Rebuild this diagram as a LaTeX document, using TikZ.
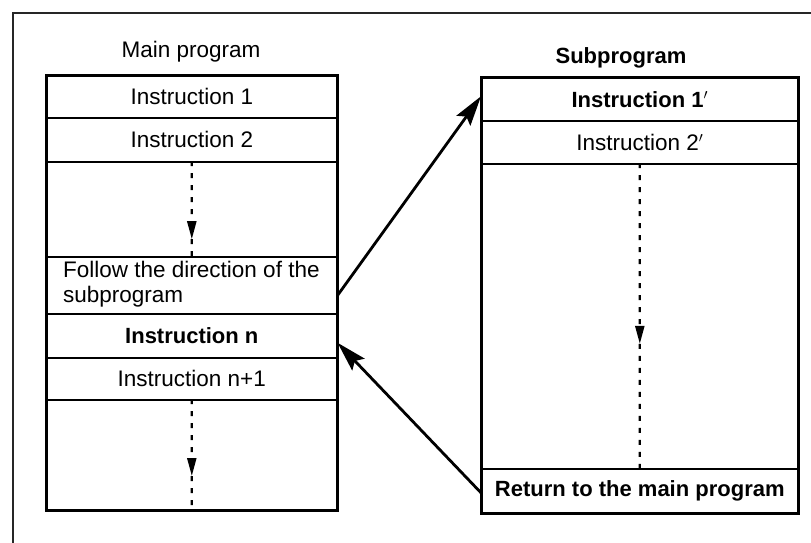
\documentclass[tikz,border=0pt]{standalone}
\usepackage{fontspec}
\setmainfont{Liberation Sans}
\usetikzlibrary{arrows.meta,calc}
\begin{document}
\begin{tikzpicture}[x=1pt,y=-1pt,
  txt/.style={font=\fontsize{22.5}{25}\selectfont},
  btxt/.style={font=\fontsize{22}{25}\selectfont\bfseries},
  cell/.style={draw,line width=1.6pt,rectangle,inner sep=0pt,anchor=north west,txt},
  mcell/.style={cell,minimum width=290pt},
  scell/.style={cell,minimum width=316pt},
  flow/.style={line width=2.8pt,-{Stealth[length=30pt,width=17pt,inset=5pt]}},
  seq/.style={line width=2.2pt,dash pattern=on 5pt off 7pt},
  seqtip/.style={seq,-{Triangle[length=18pt,width=9pt]}},
  boxline/.style={line width=2.4pt}]
\useasboundingbox (0,0) rectangle (811,543);
% page frame
\draw[line width=2.2pt,black!85] (13,543) -- (13,13) -- (811,13);

% main program column
\node[txt] (mtitle) at (191,52) {Main program};
\node[mcell,minimum height=42pt] (m1) at (46,75) {Instruction 1};
\node[mcell,minimum height=44pt] (m2) at (46,117) {Instruction 2};
\node[mcell,minimum height=95pt] (m3) at (46,161) {};
\node[mcell,minimum height=57pt] (m4) at (46,256) {};
\node[txt,anchor=west,align=left,inner sep=0pt] (m4text) at (63,284)
  {Follow the direction of the\\subprogram};
\node[mcell,minimum height=44pt,btxt] (m5) at (46,313) {Instruction n};
\node[mcell,minimum height=42pt] (m6) at (46,357) {Instruction n+1};
\node[mcell,minimum height=110pt] (m7) at (46,399) {};
\draw[boxline] (m1.north west) rectangle (m7.south east);

% subprogram column
\node[btxt] (stitle) at (621,58) {Subprogram};
\node[scell,minimum height=43pt,btxt] (s1) at (481,77) {Instruction 1$'$};
\node[scell,minimum height=43pt] (s2) at (481,120) {Instruction 2$'$};
\node[scell,minimum height=305pt] (s3) at (481,163) {};
\node[scell,minimum height=44pt,btxt] (s4) at (481,468) {Return to the main program};
\draw[boxline] (s1.north west) rectangle (s4.south east);

% sequential flow inside the blocks
\coordinate (t3) at ($(m3.north)!0.81!(m3.south)$);
\draw[seqtip] (m3.north) -- (t3);
\draw[seq] (t3) -- (m3.south);
\coordinate (t7) at ($(m7.north)!0.69!(m7.south)$);
\draw[seqtip] (m7.north) -- (t7);
\draw[seq] (t7) -- (m7.south);
\coordinate (ts) at ($(s3.north)!0.59!(s3.south)$);
\draw[seqtip] (s3.north) -- (ts);
\draw[seq] (ts) -- (s3.south);

% call and return
\draw[flow] ([yshift=-10pt]m4.east) -- ([yshift=3pt]s1.west);
\draw[flow] ([yshift=-2pt]s4.west) -- ([yshift=-7pt]m5.east);
\end{tikzpicture}
\end{document}
